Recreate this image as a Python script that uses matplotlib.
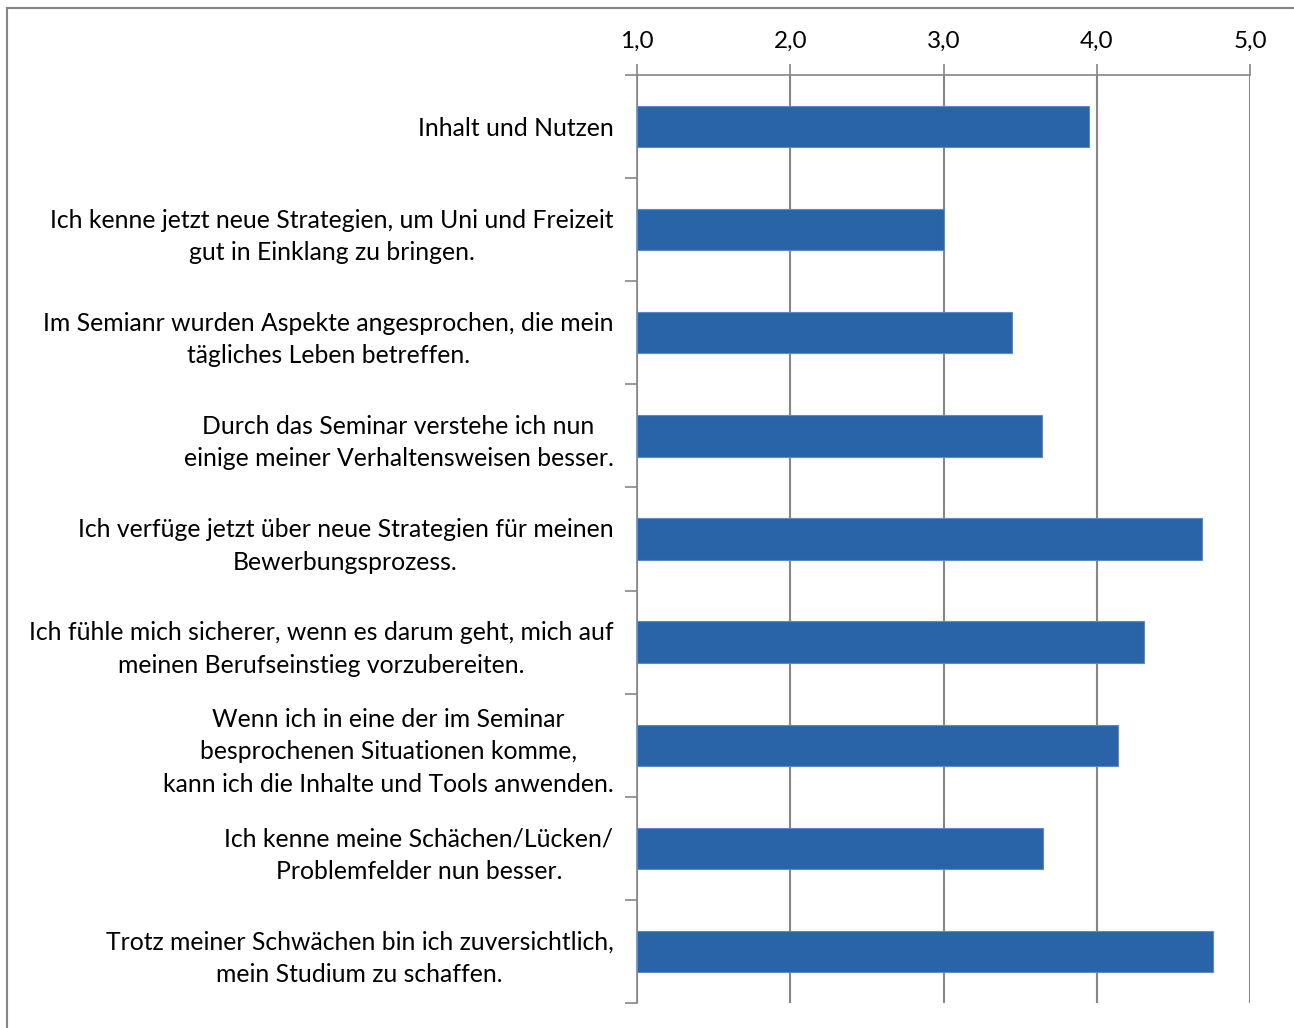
import matplotlib.pyplot as plt
import numpy as np
from matplotlib.lines import Line2D
from matplotlib.ticker import FuncFormatter

plt.rcParams['font.family'] = ['Lato', 'DejaVu Sans']

# Aussagen (von oben nach unten) und Mittelwerte
labels = [
    'Inhalt und Nutzen',
    'Ich kenne jetzt neue Strategien, um Uni und Freizeit\ngut in Einklang zu bringen.',
    'Im Semianr wurden Aspekte angesprochen, die mein\ntägliches Leben betreffen.',
    'Durch das Seminar verstehe ich nun\neinige meiner Verhaltensweisen besser.',
    'Ich verfüge jetzt über neue Strategien für meinen\nBewerbungsprozess.',
    'Ich fühle mich sicherer, wenn es darum geht, mich auf\nmeinen Berufseinstieg vorzubereiten.',
    'Wenn ich in eine der im Seminar\nbesprochenen Situationen komme,\nkann ich die Inhalte und Tools anwenden.',
    'Ich kenne meine Schächen/Lücken/\nProblemfelder nun besser.',
    'Trotz meiner Schwächen bin ich zuversichtlich,\nmein Studium zu schaffen.',
]
means = [3.95, 3.00, 3.45, 3.64, 4.69, 4.31, 4.14, 3.65, 4.76]
x_ticks = [1, 2, 3, 4, 5]

grey = '#868686'
fig = plt.figure(figsize=(12.94, 10.28), dpi=100)
ax = fig.add_axes([637 / 1294, 1 - 1003 / 1028, (1250 - 637) / 1294, (1003 - 75) / 1028])

y = np.arange(len(labels))
ax.barh(y, np.array(means) - 1, left=1, height=0.4, color='#2A64A8',
        edgecolor='#5B8BC8', linewidth=0.8, zorder=3)

ax.set_xlim(1, 5)
ax.set_ylim(len(labels) - 0.5, -0.5)
ax.xaxis.tick_top()
ax.set_xticks(x_ticks)
ax.xaxis.set_major_formatter(FuncFormatter(lambda v, p: f'{v:.1f}'.replace('.', ',')))
ax.tick_params(axis='x', length=8, width=1.2, color=grey, labelsize=17.5, pad=9)
ax.grid(axis='x', color=grey, linewidth=1.5, zorder=1)

ax.set_yticks(y)
ax.set_yticklabels(labels, fontsize=17.8, multialignment='center', linespacing=1.5)
ax.set_yticks(np.arange(len(labels) + 1) - 0.5, minor=True)
ax.tick_params(axis='y', which='major', length=0, pad=17)
ax.tick_params(axis='y', which='minor', length=9, width=1.2, color=grey)

for s in ['right', 'bottom']:
    ax.spines[s].set_visible(False)
for s in ['top', 'left']:
    ax.spines[s].set_color(grey)
    ax.spines[s].set_linewidth(1.2)

# Rahmen oben und links
fig.add_artist(Line2D([7 / 1294, 1], [1 - 8 / 1028, 1 - 8 / 1028], color=grey, linewidth=1.5))
fig.add_artist(Line2D([7 / 1294, 7 / 1294], [0, 1 - 8 / 1028], color=grey, linewidth=1.5))

fig.savefig('out.png', dpi=100)
